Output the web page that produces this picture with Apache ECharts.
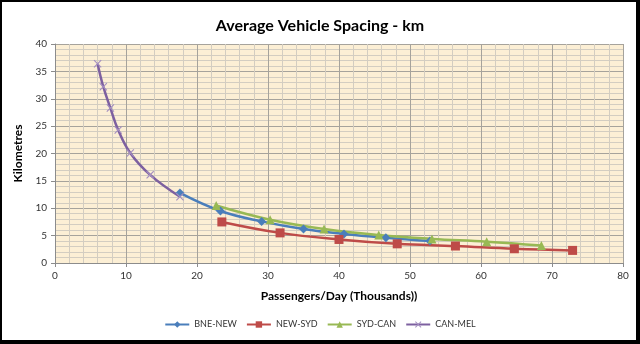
<!DOCTYPE html>
<html>
<head>
<meta charset="utf-8">
<script src="https://cdn.jsdelivr.net/npm/echarts@6/dist/echarts.min.js"></script>
<style>
  html, body { margin: 0; padding: 0; background: #fff; }
  #frame {
    position: absolute; left: 0; top: 0;
    width: 640px; height: 344px; box-sizing: border-box;
    border-left: 2px solid #000; border-top: 2px solid #000;
    border-right: 4px solid #000; border-bottom: 4px solid #000;
  }
  #chart { position: absolute; left: 0; top: 0; width: 640px; height: 344px; }
</style>
</head>
<body>
<div id="chart"></div>
<div id="frame"></div>
<script>
// Passengers per day (thousands) and average spacing (km) for each corridor
const seriesNames = ['BNE-NEW', 'NEW-SYD', 'SYD-CAN', 'CAN-MEL'];

const bneNewX = [17.6, 23.3, 29.1, 35.0, 40.7, 46.6, 52.8];
const bneNewY = [12.8, 9.5, 7.6, 6.2, 5.3, 4.6, 4.0];

const newSydX = [23.5, 31.7, 40.0, 48.2, 56.4, 64.7, 72.9];
const newSydY = [7.5, 5.5, 4.3, 3.5, 3.1, 2.6, 2.3];

const sydCanX = [22.7, 30.3, 37.9, 45.6, 53.1, 60.8, 68.5];
const sydCanY = [10.5, 7.9, 6.2, 5.1, 4.4, 3.9, 3.2];

const canMelX = [6.0, 6.8, 7.8, 8.9, 10.6, 13.4, 17.6];
const canMelY = [36.4, 32.2, 28.3, 24.3, 20.1, 16.1, 12.1];

const xTicks = { min: 0, max: 80, step: 10 };
const yTicks = { min: 0, max: 40, step: 5 };

function pairs(xs, ys) { return xs.map((x, i) => [x, ys[i]]); }

const crossPath = 'path://M0,1 L1,0 L5,4 L9,0 L10,1 L6,5 L10,9 L9,10 L5,6 L1,10 L0,9 L4,5 Z';

const font = 'Lato, "Open Sans", sans-serif';

const chart = echarts.init(document.getElementById('chart'), null, { renderer: 'canvas' });

function lineSeries(name, data, color, symbol, size, symbolColor) {
  return {
    name: name,
    type: 'line',
    data: data,
    smooth: 0.4,
    symbol: symbol,
    symbolSize: size,
    showSymbol: true,
    lineStyle: { color: color, width: 2.5 },
    itemStyle: { color: symbolColor || color },
    emphasis: { disabled: true },
    z: 3
  };
}

chart.setOption({
  animation: false,
  backgroundColor: '#ffffff',
  title: {
    text: 'Average Vehicle Spacing - km',
    left: 'center',
    top: 13,
    textStyle: { fontFamily: font, fontSize: 16, fontWeight: 'bold', color: '#000' }
  },
  legend: {
    bottom: 10,
    left: 'center',
    itemWidth: 24,
    itemHeight: 8,
    itemGap: 9,
    textStyle: { fontFamily: font, fontSize: 9, color: '#333' },
    data: seriesNames
  },
  grid: { left: 55, right: 17, top: 44, bottom: 81 },
  xAxis: {
    type: 'value',
    min: xTicks.min, max: xTicks.max, interval: xTicks.step,
    name: 'Passengers/Day (Thousands))',
    nameLocation: 'middle',
    nameGap: 27,
    nameTextStyle: { fontFamily: font, fontSize: 12, fontWeight: 'bold', color: '#000' },
    axisLine: { show: true, lineStyle: { color: '#8c8c8c', width: 1 } },
    axisTick: { show: true, length: 4, lineStyle: { color: '#8c8c8c' } },
    axisLabel: { fontFamily: font, fontSize: 10, color: '#333', margin: 8 },
    splitLine: { show: true, lineStyle: { color: '#a6a39c', width: 1 } },
    minorTick: { show: false, splitNumber: 5 },
    minorSplitLine: { show: true, lineStyle: { color: '#d3cdc1', width: 1 } }
  },
  yAxis: {
    type: 'value',
    min: yTicks.min, max: yTicks.max, interval: yTicks.step,
    name: 'Kilometres',
    nameLocation: 'middle',
    nameGap: 27,
    nameTextStyle: { fontFamily: font, fontSize: 12, fontWeight: 'bold', color: '#000' },
    axisLine: { show: true, lineStyle: { color: '#8c8c8c', width: 1 } },
    axisTick: { show: true, length: 4, lineStyle: { color: '#8c8c8c' } },
    axisLabel: { fontFamily: font, fontSize: 10, color: '#333', margin: 8 },
    splitLine: { show: true, lineStyle: { color: '#a6a39c', width: 1 } },
    minorTick: { show: false, splitNumber: 5 },
    minorSplitLine: { show: true, lineStyle: { color: '#d3cdc1', width: 1 } }
  },
  graphic: [],
  series: [
    lineSeries(seriesNames[0], pairs(bneNewX, bneNewY), '#4a7ebb', 'diamond', 9),
    lineSeries(seriesNames[1], pairs(newSydX, newSydY), '#be4b48', 'rect', 9),
    lineSeries(seriesNames[2], pairs(sydCanX, sydCanY), '#98b954', 'triangle', 9),
    lineSeries(seriesNames[3], pairs(canMelX, canMelY), '#7d60a0', crossPath, 8, '#a48fc0')
  ]
});

// cream plot background behind the grid
const rect = chart.getModel().getComponent('grid').coordinateSystem.getRect();
chart.setOption({
  graphic: [{
    type: 'rect',
    z: -10,
    silent: true,
    shape: { x: rect.x, y: rect.y, width: rect.width, height: rect.height },
    style: { fill: '#fcefd5' }
  }]
});
</script>
</body>
</html>
